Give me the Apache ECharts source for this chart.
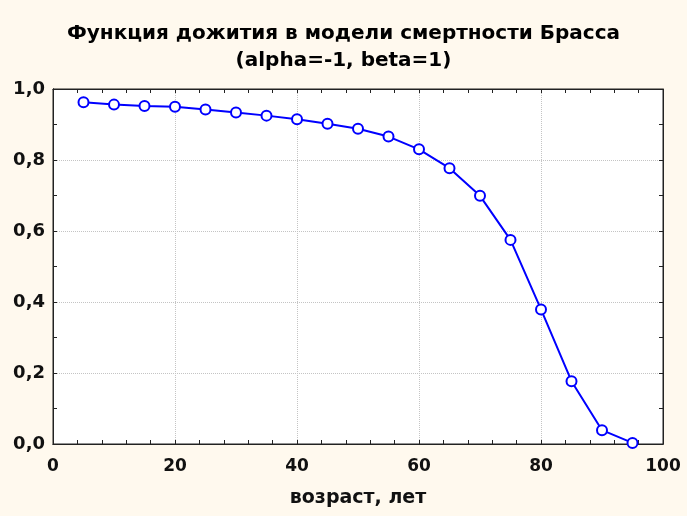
<!DOCTYPE html>
<html>
<head>
<meta charset="utf-8">
<script src="https://cdn.jsdelivr.net/npm/echarts@6/dist/echarts.min.js"></script>
<style>
  html, body { margin: 0; padding: 0; background: #fff9ee; }
  #chart { width: 687px; height: 516px; }
</style>
</head>
<body>
<div id="chart"></div>
<script>
// Survival function l(x) of the Brass mortality model, alpha = -1, beta = 1
const ages = [5, 10, 15, 20, 25, 30, 35, 40, 45, 50, 55, 60, 65, 70, 75, 80, 85, 90, 95];
const survival = [0.963, 0.956, 0.952, 0.950, 0.942, 0.934, 0.925, 0.915, 0.902, 0.888,
                  0.866, 0.830, 0.777, 0.699, 0.575, 0.379, 0.177, 0.039, 0.003];
const xTicks = [0, 20, 40, 60, 80, 100];
const yTicks = [0, 0.2, 0.4, 0.6, 0.8, 1.0];

const titleText = 'Функция дожития в модели смертности Брасса\n(alpha=-1, beta=1)';
const xName = 'возраст, лет';

const font = '"DejaVu Sans", Verdana, sans-serif';
const frame = '#222222';
const gridLine = { show: true, lineStyle: { color: '#c4c4c4', type: 'dotted', width: 1 } };
const xMin = xTicks[0], xMax = xTicks[xTicks.length - 1];
const yMin = yTicks[0], yMax = yTicks[yTicks.length - 1];

// tick-only axis: short inward ticks, no labels, no gridlines
function tickAxis(position, min, max, step) {
  return {
    type: 'value', position, min, max, interval: step,
    axisLine: { show: true, onZero: false, lineStyle: { color: frame } },
    axisTick: { show: true, inside: true, length: 4, lineStyle: { color: frame } },
    axisLabel: { show: false }, splitLine: { show: false }
  };
}

const chart = echarts.init(document.getElementById('chart'));
chart.setOption({
  backgroundColor: '#fff9ee',
  animation: false,
  title: {
    text: titleText,
    left: 'center',
    top: 15,
    textStyle: { fontFamily: font, fontWeight: 'bold', fontSize: 20, color: '#000', lineHeight: 27 }
  },
  grid: {
    left: 53, right: 24, top: 89, bottom: 72,
    show: true, backgroundColor: '#ffffff', borderColor: frame, borderWidth: 1
  },
  xAxis: [{
    type: 'value', min: xMin, max: xMax, interval: 20,
    name: xName, nameLocation: 'middle', nameGap: 45,
    nameTextStyle: { fontFamily: font, fontWeight: 'bold', fontSize: 19, color: '#111' },
    axisLine: { show: true, onZero: false, lineStyle: { color: frame } },
    axisTick: { show: false },
    axisLabel: { fontFamily: font, fontWeight: 'bold', fontSize: 17, color: '#111', margin: 14 },
    splitLine: gridLine
  },
    tickAxis('bottom', xMin, xMax, 4),
    tickAxis('top', xMin, xMax, 4)
  ],
  yAxis: [{
    type: 'value', min: yMin, max: yMax, interval: 0.2,
    axisLine: { show: true, onZero: false, lineStyle: { color: frame } },
    axisTick: { show: false },
    axisLabel: {
      fontFamily: font, fontWeight: 'bold', fontSize: 18, color: '#111', margin: 8,
      formatter: v => v.toFixed(1).replace('.', ',')
    },
    splitLine: gridLine
  },
    tickAxis('left', yMin, yMax, 0.1),
    tickAxis('right', yMin, yMax, 0.1)
  ],
  series: [{
    type: 'line',
    data: ages.map((a, i) => [a, survival[i]]),
    symbol: 'circle', symbolSize: 10,
    itemStyle: { color: '#ffffff', borderColor: '#0000ff', borderWidth: 2 },
    lineStyle: { color: '#0000ff', width: 2 }
  }]
});
</script>
</body>
</html>
